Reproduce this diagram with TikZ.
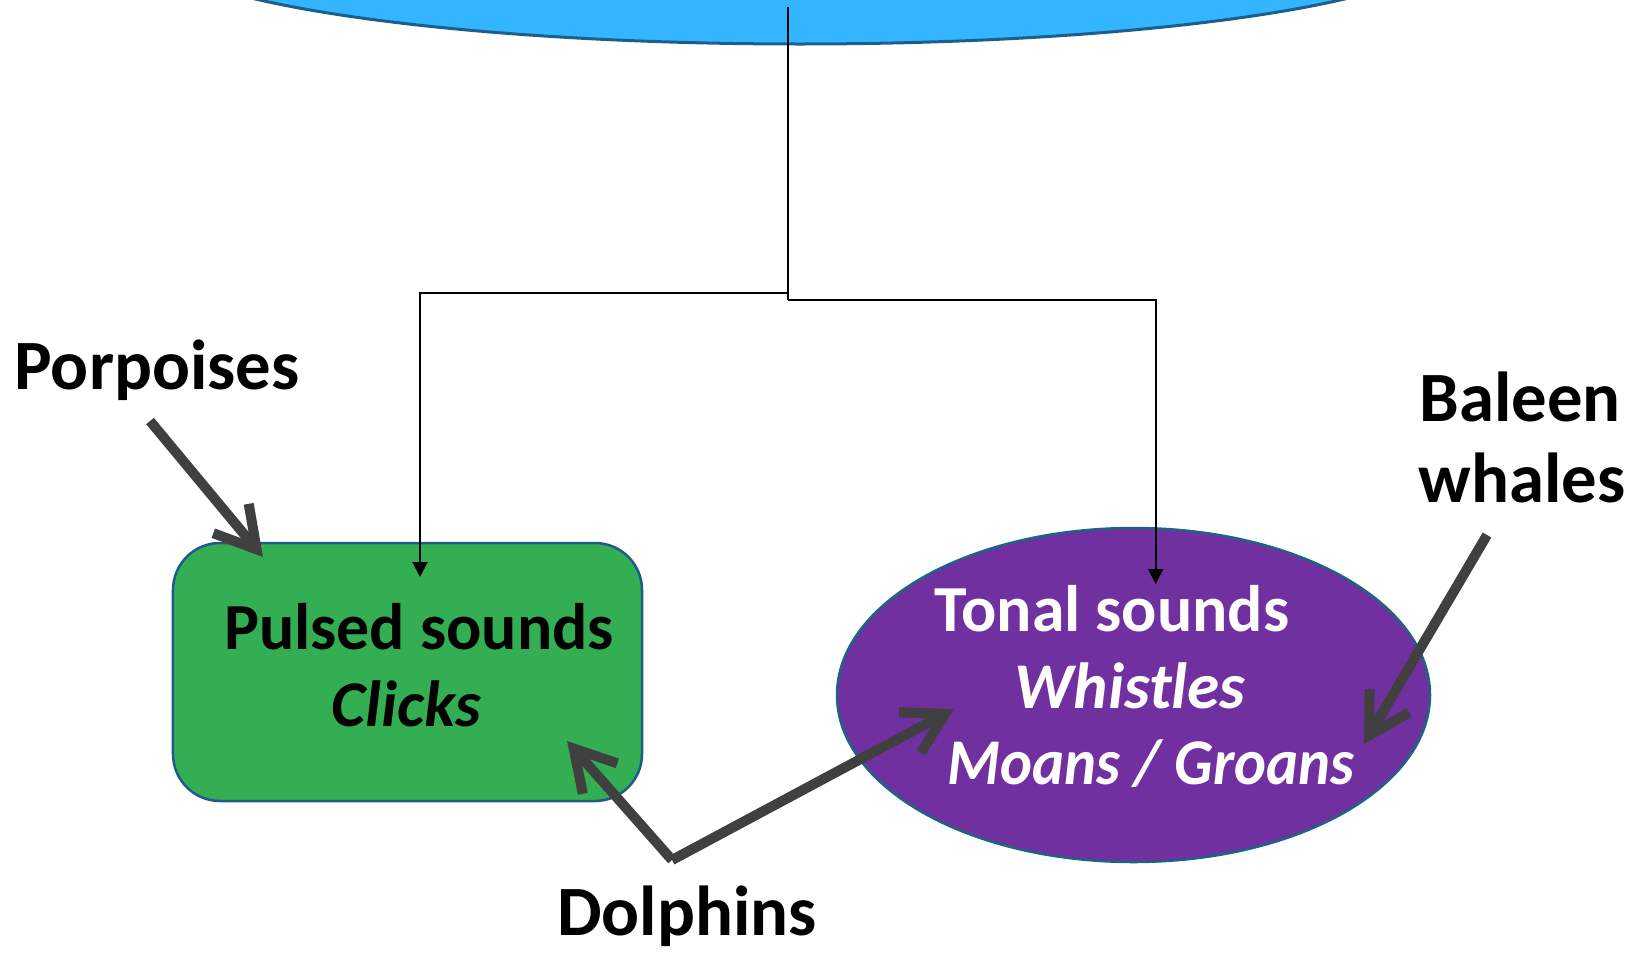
\documentclass[tikz,border=0pt]{standalone}
\usepackage{fontspec}
\setmainfont{Carlito}
\usetikzlibrary{arrows.meta,shapes.geometric}
\definecolor{skyfill}{RGB}{51,181,255}
\definecolor{skyline}{RGB}{28,95,140}
\definecolor{greenfill}{RGB}{52,174,82}
\definecolor{greenline}{RGB}{31,90,140}
\definecolor{purplefill}{RGB}{112,48,160}
\definecolor{purpleline}{RGB}{30,100,130}
\definecolor{arrowgray}{RGB}{64,64,64}
\tikzset{
  conn/.style={line width=2bp, black, -{Triangle[length=15bp,width=15bp]}},
  thick arrow/.style={line width=10bp, arrowgray, -{Straight Barb[length=40bp,width=46bp]}},
  txt/.style={inner sep=0pt, anchor=base, font=\fontsize{66}{80}\selectfont\bfseries},
  itxt/.style={inner sep=0pt, anchor=base, font=\fontsize{65.5}{80}\selectfont\bfseries\itshape},
  lbl/.style={inner sep=0pt, anchor=base, font=\fontsize{71}{80}\selectfont\bfseries},
}
\begin{document}
\begin{tikzpicture}[x=1bp,y=-1bp]
\useasboundingbox (0,0) rectangle (1641,952);
% top ellipse (cut by the page edge)
\node[ellipse, draw=skyline, fill=skyfill, line width=3bp, inner sep=0pt,
      minimum width=1304bp, minimum height=200bp] (top) at (800,-56) {};
% green rounded box
\node[rectangle, rounded corners=47bp, draw=greenline, fill=greenfill, line width=2.5bp,
      minimum width=469bp, minimum height=258bp, inner sep=0pt] (pulsed) at (407.5,672) {};
% purple ellipse
\node[ellipse, draw=purpleline, fill=purplefill, line width=2.5bp, inner sep=0pt,
      minimum width=593bp, minimum height=334bp] (tonal) at (1133.5,695) {};

% texts in shapes
\node[txt] (pulsedA) at (419,649) {Pulsed sounds};
\node[itxt] (pulsedB) at (406,726) {Clicks};
\node[txt, white] (tonalA) at (1112,631) {Tonal sounds};
\node[itxt, white] (tonalB) at (1130,708) {Whistles};
\node[itxt, white] (tonalC) at (1151,784) {\scalebox{0.93}[1]{Moans / Groans}};

% labels
\node[lbl] (porp) at (157,389) {Porpoises};
\node[lbl] (dolph) at (687,935) {Dolphins};
\node[lbl] (baleenA) at (1520,421) {Baleen};
\node[lbl] (baleenB) at (1522,502) {whales};

% thin tree connectors
\coordinate (src) at (788,7);
\coordinate (jL) at (788,293);
\coordinate (jR) at (788,300);
\coordinate (tipL) at (420,577);
\coordinate (tipR) at (1155.7,584);
\draw[line width=2bp] (src) -- (jR);
\draw[conn] (jL) -| (tipL);
\draw[conn] (jR) -| (tipR);

% thick arrows
\coordinate (porpS) at (150,421);
\coordinate (porpT) at (263,557);
\coordinate (dolS) at (672,860);
\coordinate (dolTL) at (567,741);
\coordinate (dolTR) at (954,709);
\coordinate (balS) at (1487,535);
\coordinate (balT) at (1364,744);
\draw[thick arrow] (porpS) -- (porpT);
\draw[thick arrow] (dolS) -- (dolTL);
\draw[thick arrow] (dolS) -- (dolTR);
\draw[thick arrow] (balS) -- (balT);
\end{tikzpicture}
\end{document}
